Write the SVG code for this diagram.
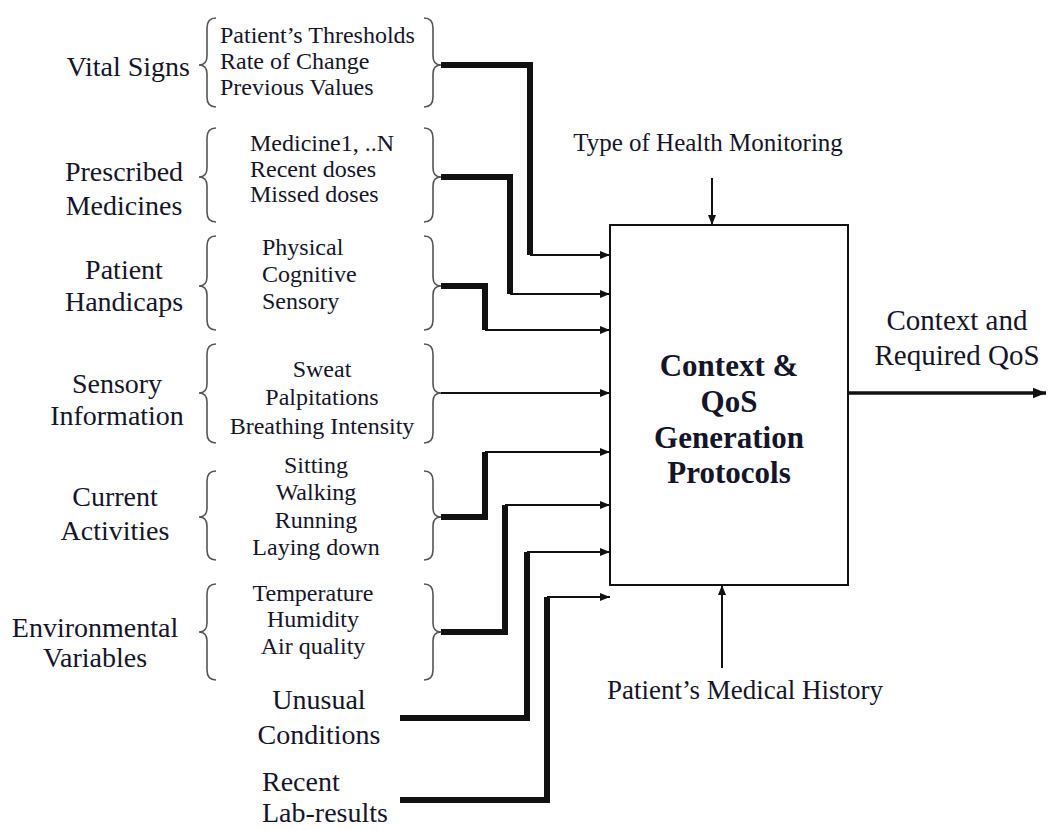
<svg xmlns="http://www.w3.org/2000/svg" width="1049" height="830" viewBox="0 0 1049 830">
  <defs>
    <marker id="arr" viewBox="0 0 10 10" refX="10" refY="5" markerWidth="10" markerHeight="10" markerUnits="userSpaceOnUse" orient="auto">
      <path d="M0,1 L10,5 L0,9 Z" fill="#111"/>
    </marker>
    <marker id="arrBig" viewBox="0 0 10 10" refX="10" refY="5" markerWidth="13" markerHeight="13" markerUnits="userSpaceOnUse" orient="auto">
      <path d="M0,1 L10,5 L0,9 Z" fill="#111"/>
    </marker>
    <style>
      text { font-family: "Liberation Serif", "Times New Roman", serif; fill: #15152a; }
      .lbl { font-size: 28px; }
      .item { font-size: 24px; }
      .title { font-size: 31px; font-weight: bold; }
      .out { font-size: 29px; }
      .top { font-size: 25px; }
      .bottom { font-size: 27px; }
      .brace { fill: none; stroke: #555; stroke-width: 1.6; }
      .thick { fill: none; stroke: #111; stroke-width: 6; stroke-linejoin: miter; }
      .thin { fill: none; stroke: #111; stroke-width: 2; marker-end: url(#arr); }
      .box { fill: #fff; stroke: #111; stroke-width: 2; }
    </style>
  </defs>

  <!-- input groups: label, bracketed items -->
  <g id="vital-signs">
    <text class="lbl" x="190" y="76" text-anchor="end">Vital Signs</text>
    <path class="brace" d="M216 18 Q207 18 207 28 L207 56 Q207 65 199 65 Q207 65 207 74 L207 97 Q207 107 216 107"/>
    <text class="item" x="220" y="43">Patient’s Thresholds</text>
    <text class="item" x="220" y="69">Rate of Change</text>
    <text class="item" x="220" y="95">Previous Values</text>
    <path class="brace" d="M424 18 Q433 18 433 28 L433 56 Q433 65 441 65 Q433 65 433 74 L433 97 Q433 107 424 107"/>
  </g>

  <g id="prescribed-medicines">
    <text class="lbl" x="124" y="181" text-anchor="middle">Prescribed</text>
    <text class="lbl" x="124" y="215" text-anchor="middle">Medicines</text>
    <path class="brace" d="M216 128 Q207 128 207 138 L207 168 Q207 177 199 177 Q207 177 207 186 L207 212 Q207 222 216 222"/>
    <text class="item" x="250" y="151">Medicine1, ..N</text>
    <text class="item" x="250" y="177">Recent doses</text>
    <text class="item" x="250" y="202">Missed doses</text>
    <path class="brace" d="M424 128 Q433 128 433 138 L433 168 Q433 177 441 177 Q433 177 433 186 L433 212 Q433 222 424 222"/>
  </g>

  <g id="patient-handicaps">
    <text class="lbl" x="124" y="279" text-anchor="middle">Patient</text>
    <text class="lbl" x="124" y="311" text-anchor="middle">Handicaps</text>
    <path class="brace" d="M216 236 Q207 236 207 246 L207 277 Q207 286 199 286 Q207 286 207 295 L207 320 Q207 330 216 330"/>
    <text class="item" x="262" y="255">Physical</text>
    <text class="item" x="262" y="282">Cognitive</text>
    <text class="item" x="262" y="309">Sensory</text>
    <path class="brace" d="M424 236 Q433 236 433 246 L433 277 Q433 286 441 286 Q433 286 433 295 L433 320 Q433 330 424 330"/>
  </g>

  <g id="sensory-information">
    <text class="lbl" x="117" y="393" text-anchor="middle">Sensory</text>
    <text class="lbl" x="117" y="425" text-anchor="middle">Information</text>
    <path class="brace" d="M216 344 Q207 344 207 354 L207 384 Q207 393 199 393 Q207 393 207 402 L207 433 Q207 443 216 443"/>
    <text class="item" x="322" y="377" text-anchor="middle">Sweat</text>
    <text class="item" x="322" y="405" text-anchor="middle">Palpitations</text>
    <text class="item" x="322" y="434" text-anchor="middle">Breathing Intensity</text>
    <path class="brace" d="M424 344 Q433 344 433 354 L433 384 Q433 393 441 393 Q433 393 433 402 L433 433 Q433 443 424 443"/>
  </g>

  <g id="current-activities">
    <text class="lbl" x="115" y="506" text-anchor="middle">Current</text>
    <text class="lbl" x="115" y="540" text-anchor="middle">Activities</text>
    <path class="brace" d="M216 471 Q207 471 207 481 L207 508 Q207 517 199 517 Q207 517 207 526 L207 550 Q207 560 216 560"/>
    <text class="item" x="316" y="473" text-anchor="middle">Sitting</text>
    <text class="item" x="316" y="500" text-anchor="middle">Walking</text>
    <text class="item" x="316" y="528" text-anchor="middle">Running</text>
    <text class="item" x="316" y="555" text-anchor="middle">Laying down</text>
    <path class="brace" d="M424 471 Q433 471 433 481 L433 508 Q433 517 441 517 Q433 517 433 526 L433 550 Q433 560 424 560"/>
  </g>

  <g id="environmental-variables">
    <text class="lbl" x="95" y="637" text-anchor="middle">Environmental</text>
    <text class="lbl" x="95" y="667" text-anchor="middle">Variables</text>
    <path class="brace" d="M216 584 Q207 584 207 594 L207 623 Q207 632 199 632 Q207 632 207 641 L207 670 Q207 680 216 680"/>
    <text class="item" x="313" y="601" text-anchor="middle">Temperature</text>
    <text class="item" x="313" y="627" text-anchor="middle">Humidity</text>
    <text class="item" x="313" y="654" text-anchor="middle">Air quality</text>
    <path class="brace" d="M424 584 Q433 584 433 594 L433 623 Q433 632 441 632 Q433 632 433 641 L433 670 Q433 680 424 680"/>
  </g>

  <g id="unusual-conditions">
    <text class="lbl" x="319" y="709" text-anchor="middle">Unusual</text>
    <text class="lbl" x="319" y="744" text-anchor="middle">Conditions</text>
  </g>

  <g id="recent-lab-results">
    <text class="lbl" x="262" y="791">Recent</text>
    <text class="lbl" x="262" y="822">Lab-results</text>
  </g>

  <!-- central process block -->
  <g id="process">
    <rect class="box" x="610" y="225" width="238" height="360"/>
    <text class="title" x="729" y="376" text-anchor="middle">Context &amp;</text>
    <text class="title" x="729" y="412" text-anchor="middle">QoS</text>
    <text class="title" x="729" y="448" text-anchor="middle">Generation</text>
    <text class="title" x="729" y="483" text-anchor="middle">Protocols</text>
  </g>

  <g id="health-monitoring">
    <text class="top" x="708" y="151" text-anchor="middle">Type of Health Monitoring</text>
  </g>

  <g id="medical-history">
    <text class="bottom" x="745" y="699" text-anchor="middle">Patient’s Medical History</text>
  </g>

  <g id="output">
    <text class="out" x="957" y="330" text-anchor="middle">Context and</text>
    <text class="out" x="957" y="365" text-anchor="middle">Required QoS</text>
  </g>

  <!-- connectors -->
  <g id="connectors">
    <path class="thick" d="M441 65 H530 V255"/>
    <path class="thin" d="M530 255 H610"/>

    <path class="thick" d="M441 177 H510 V294"/>
    <path class="thin" d="M510 294 H610"/>

    <path class="thick" d="M441 286 H485 V330"/>
    <path class="thin" d="M485 330 H610"/>

    <path class="thin" d="M441 393 H610"/>

    <path class="thick" d="M441 517 H485 V452"/>
    <path class="thin" d="M485 452 H610"/>

    <path class="thick" d="M441 632 H505 V505"/>
    <path class="thin" d="M505 505 H610"/>

    <path class="thick" d="M400 718 H527 V552"/>
    <path class="thin" d="M527 552 H610"/>

    <path class="thick" d="M400 800 H547 V597"/>
    <path class="thin" d="M547 597 H610"/>

    <path class="thin" d="M712 178 V225"/>
    <path class="thin" d="M722 668 V585"/>

    <path fill="none" stroke="#111" stroke-width="3.5" marker-end="url(#arrBig)" d="M848 393 H1046"/>
  </g>
</svg>
